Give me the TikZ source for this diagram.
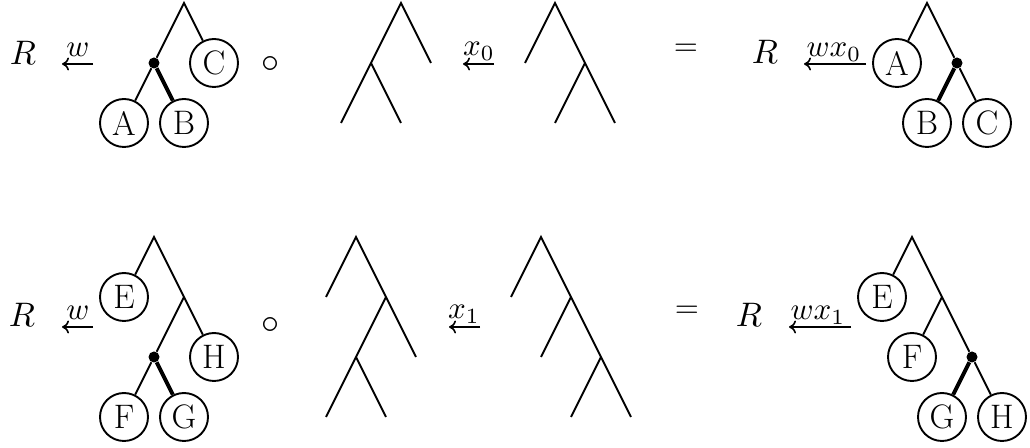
\documentclass[tikz,border=0pt]{standalone}
\usepackage{graphicx}
\usetikzlibrary{arrows.meta}
\newcommand{\myR}[1]{\scalebox{1.7}{$#1$}}
\newcommand{\mylbl}[1]{\scalebox{1.55}{$#1$}}
\newcommand{\mycirc}{\scalebox{1.8}{$\circ$}}
\tikzset{
  edge/.style={line width=0.95pt},
  thickedge/.style={line width=2pt},
  leafc/.style={circle,draw,line width=0.95pt,minimum size=24pt,inner sep=0pt,font=\fontsize{17}{20}\selectfont},
  blackdot/.style={circle,fill=black,minimum size=5.5pt,inner sep=0pt},
  mtext/.style={anchor=base,inner sep=0pt},
  lbl/.style={anchor=base,inner sep=0pt},
  sym/.style={inner sep=0pt},
  harr/.style={line width=0.8pt,-{To[length=3.5pt,width=6.5pt]}},
}
\begin{document}
\begin{tikzpicture}[x=0.5pt,y=-0.5pt]
\useasboundingbox (0,0) rectangle (1030,448);
% ---------- top row ----------
% tree 1
\coordinate (r1) at (184,3);
\node[blackdot] (d1) at (154,63) {};
\node[leafc] (C1) at (214,63) {C};
\node[leafc] (A1) at (124,123) {A};
\node[leafc] (B1) at (184,123) {B};
\draw[edge] (d1) -- (r1) -- (C1);
\draw[edge] (d1) -- (A1);
\draw[thickedge] (d1) -- (B1);
% tree 2
\coordinate (p1) at (401,3);
\coordinate (p1a) at (371,63);
\coordinate (p1b) at (431,63);
\coordinate (p1c) at (341,123);
\coordinate (p1d) at (401,123);
\draw[edge] (p1c) -- (p1a) -- (p1) -- (p1b);
\draw[edge] (p1a) -- (p1d);
% tree 3
\coordinate (q1) at (555,3);
\coordinate (q1a) at (525,63);
\coordinate (q1b) at (585,63);
\coordinate (q1c) at (555,123);
\coordinate (q1d) at (615,123);
\draw[edge] (q1a) -- (q1) -- (q1b) -- (q1d);
\draw[edge] (q1b) -- (q1c);
% tree 4
\coordinate (s1) at (927,3);
\node[leafc] (A2) at (897,63) {A};
\node[blackdot] (d2) at (957,63) {};
\node[leafc] (B2) at (927,123) {B};
\node[leafc] (C2) at (987,123) {C};
\draw[edge] (A2) -- (s1) -- (d2);
\draw[thickedge] (d2) -- (B2);
\draw[edge] (d2) -- (C2);
% texts and arrows, top
\node[mtext] (R1) at (23,65) {\myR{R}};
\coordinate (a1s) at (93,64); \coordinate (a1e) at (62,64);
\draw[harr] (a1s) -- (a1e);
\node[lbl] (w1) at (78,57) {\mylbl{w}};
\node[sym] (o1) at (270,65) {\mycirc};
\coordinate (a2s) at (494,64); \coordinate (a2e) at (463,64);
\draw[harr] (a2s) -- (a2e);
\node[lbl] (x0) at (479,56) {\mylbl{x_0}};
\node[sym] (eq1) at (686,50) {\mylbl{=}};
\node[mtext] (R2) at (765,64) {\myR{R}};
\coordinate (a3s) at (866,64); \coordinate (a3e) at (804,64);
\draw[harr] (a3s) -- (a3e);
\node[lbl] (wx0) at (834,57) {\mylbl{wx_0}};
% ---------- bottom row ----------
% tree 5
\coordinate (r5) at (154,237);
\node[leafc] (E5) at (124,297) {E};
\coordinate (n5) at (184,297);
\node[leafc] (H5) at (214,357) {H};
\node[blackdot] (d5) at (154,357) {};
\node[leafc] (F5) at (124,417) {F};
\node[leafc] (G5) at (184,417) {G};
\draw[edge] (E5) -- (r5) -- (n5) -- (H5);
\draw[edge] (n5) -- (d5);
\draw[edge] (d5) -- (F5);
\draw[thickedge] (d5) -- (G5);
% tree 6
\coordinate (p5) at (356,237);
\coordinate (p5a) at (326,297);
\coordinate (p5b) at (386,297);
\coordinate (p5c) at (356,357);
\coordinate (p5d) at (416,357);
\coordinate (p5e) at (326,417);
\coordinate (p5f) at (386,417);
\draw[edge] (p5a) -- (p5) -- (p5b) -- (p5d);
\draw[edge] (p5b) -- (p5c) -- (p5e);
\draw[edge] (p5c) -- (p5f);
% tree 7
\coordinate (q5) at (541,237);
\coordinate (q5a) at (511,297);
\coordinate (q5b) at (571,297);
\coordinate (q5c) at (541,357);
\coordinate (q5d) at (601,357);
\coordinate (q5e) at (571,417);
\coordinate (q5f) at (631,417);
\draw[edge] (q5a) -- (q5) -- (q5b) -- (q5d) -- (q5f);
\draw[edge] (q5b) -- (q5c);
\draw[edge] (q5d) -- (q5e);
% tree 8
\coordinate (s5) at (912,237);
\node[leafc] (E8) at (882,297) {E};
\coordinate (n8) at (942,297);
\node[leafc] (F8) at (912,357) {F};
\node[blackdot] (d8) at (972,357) {};
\node[leafc] (G8) at (942,417) {G};
\node[leafc] (H8) at (1002,417) {H};
\draw[edge] (E8) -- (s5) -- (n8) -- (d8);
\draw[edge] (n8) -- (F8);
\draw[thickedge] (d8) -- (G8);
\draw[edge] (d8) -- (H8);
% texts and arrows, bottom
\node[mtext] (R3) at (22,327) {\myR{R}};
\coordinate (b1s) at (93,327); \coordinate (b1e) at (62,327);
\draw[harr] (b1s) -- (b1e);
\node[lbl] (w2) at (78,320) {\mylbl{w}};
\node[sym] (o2) at (270,326) {\mycirc};
\coordinate (b2s) at (480,327); \coordinate (b2e) at (449,327);
\draw[harr] (b2s) -- (b2e);
\node[lbl] (x1) at (464,319) {\mylbl{x_1}};
\node[sym] (eq2) at (687,312) {\mylbl{=}};
\node[mtext] (R4) at (749,327) {\myR{R}};
\coordinate (b3s) at (851,327); \coordinate (b3e) at (789,327);
\draw[harr] (b3s) -- (b3e);
\node[lbl] (wx1) at (818,320) {\mylbl{wx_1}};
\end{tikzpicture}
\end{document}
